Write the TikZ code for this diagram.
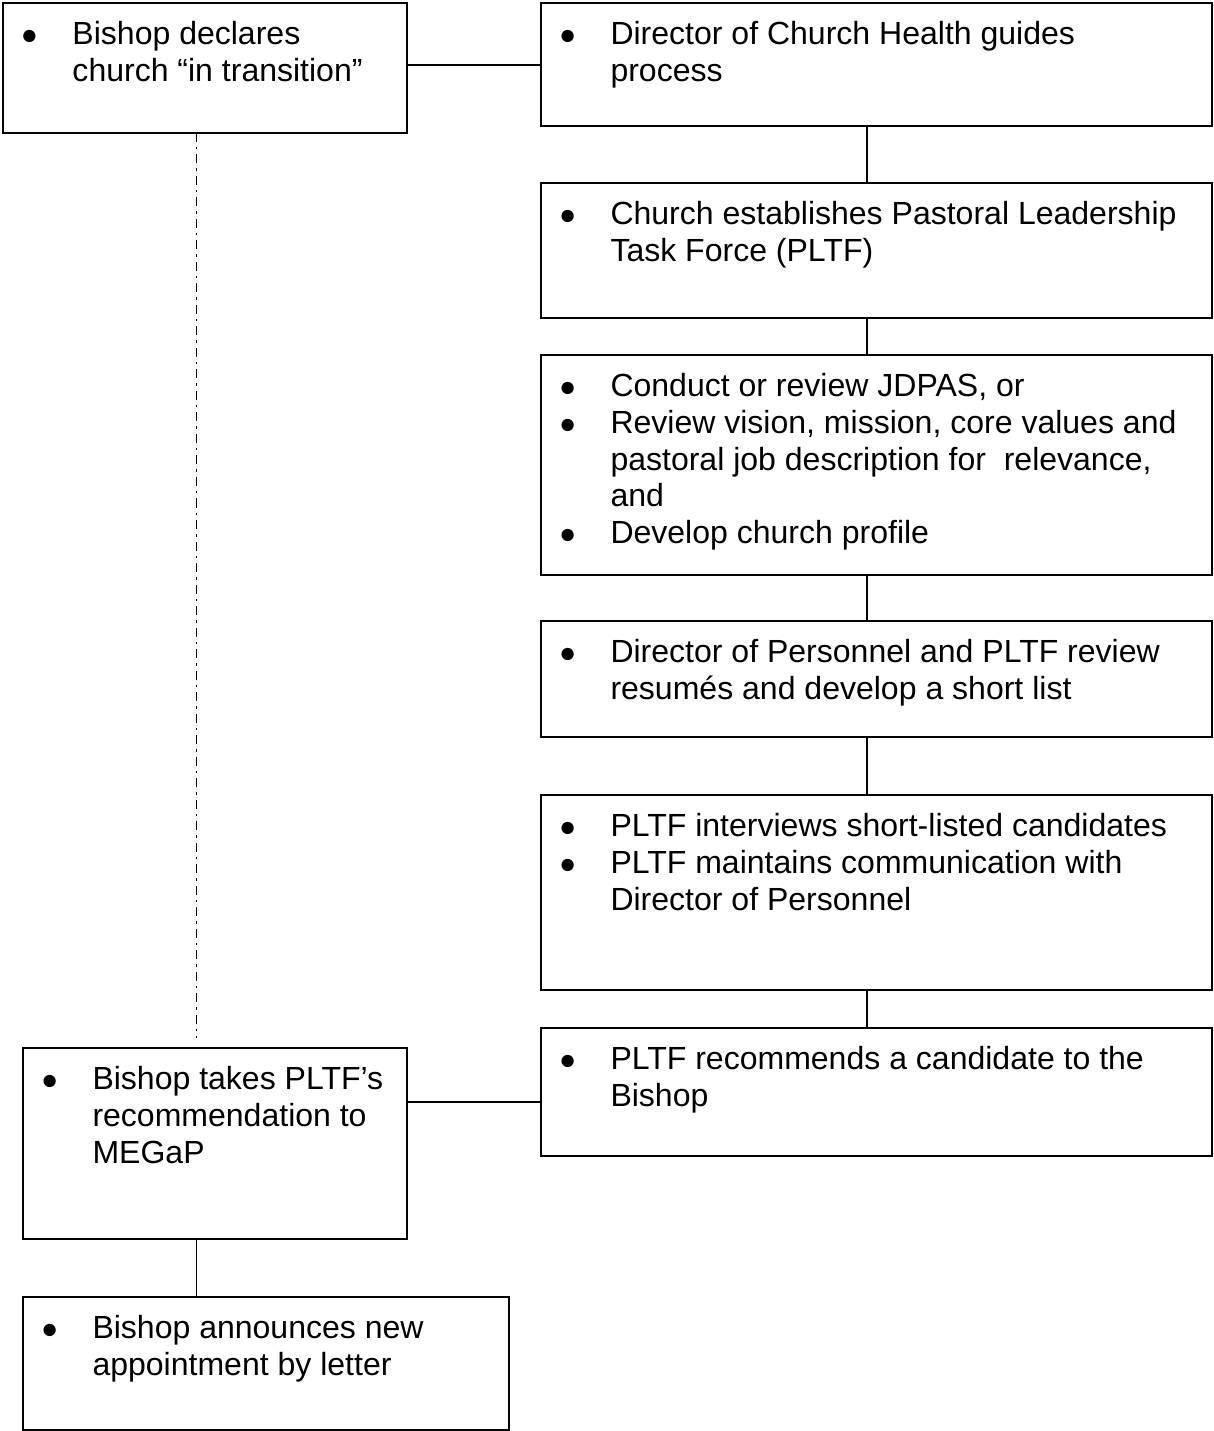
\documentclass[tikz,border=0pt]{standalone}
\usepackage{fontspec}
\setmainfont{Liberation Sans}
\newlength\px \setlength\px{0.3685pt}
\newlength\bulin \setlength\bulin{18\px}
\newlength\txtin \setlength\txtin{69.5\px}
\newcommand\mybullet{{\fontsize{10.5pt}{10.5pt}\selectfont ●}}
\newcommand\bitem[1]{\par\noindent\hangindent=\txtin\hangafter=1\makebox[\txtin][l]{\hspace*{\bulin}\mybullet}\strut{\let\\\newline #1}\par}
\newcommand\boxtext[3]{\parbox[t][#2\px][t]{#1\px}{\fontsize{11.8pt}{13.55pt}\selectfont\rightskip=0pt plus 1fil\parindent=0pt\parskip=0pt\hbadness=10000\hfuzz=100pt\vspace*{5.8pt}#3}}
\tikzset{
  flowbox/.style={draw, line width=0.75pt, inner sep=0pt, outer sep=0pt, anchor=north west},
  conn/.style={line width=0.6pt},
  dashdotline/.style={line width=0.45pt, dash pattern=on 9\px off 5\px on 2.5\px off 5\px}
}
\begin{document}
\begin{tikzpicture}[x=0.3685pt,y=-0.3685pt]
\useasboundingbox (0,0) rectangle (1213,1431);
\node[flowbox] (b1) at (3,3) {\boxtext{404}{130}{\bitem{Bishop declares\\church “in transition”}}};
\node[flowbox] (b2) at (541,3) {\boxtext{671}{123}{\bitem{Director of Church Health guides\\process}}};
\node[flowbox] (b3) at (541,183) {\boxtext{671}{135}{\bitem{Church establishes Pastoral Leadership\\Task Force (PLTF)}}};
\node[flowbox] (b4) at (541,355) {\boxtext{671}{220}{\bitem{Conduct or review JDPAS, or}\bitem{Review vision, mission, core values and\\pastoral job description for~ relevance,\\and}\bitem{Develop church profile}}};
\node[flowbox] (b5) at (541,621) {\boxtext{671}{116}{\bitem{Director of Personnel and PLTF review\\resumés and develop a short list}}};
\node[flowbox] (b6) at (541,795) {\boxtext{671}{195}{\bitem{PLTF interviews short-listed candidates}\bitem{PLTF maintains communication with\\Director of Personnel}}};
\node[flowbox] (b7) at (541,1028) {\boxtext{671}{128}{\bitem{PLTF recommends a candidate to the\\Bishop}}};
\node[flowbox] (b8) at (23,1048) {\boxtext{384}{191}{\bitem{Bishop takes PLTF’s\\recommendation to\\MEGaP}}};
\node[flowbox] (b9) at (23,1297) {\boxtext{486}{133}{\bitem{Bishop announces new\\appointment by letter}}};
\coordinate (cx) at (867,0);
\coordinate (cl) at (196.5,0);
\coordinate (h1) at (0,65);
\coordinate (h2) at (0,1102);
\coordinate (dend) at (196.5,1038);
\draw[conn] (b1.east |- h1) -- (b2.west |- h1);
\draw[conn] (b2.south -| cx) -- (b3.north -| cx);
\draw[conn] (b3.south -| cx) -- (b4.north -| cx);
\draw[conn] (b4.south -| cx) -- (b5.north -| cx);
\draw[conn] (b5.south -| cx) -- (b6.north -| cx);
\draw[conn] (b6.south -| cx) -- (b7.north -| cx);
\draw[conn] (b8.east |- h2) -- (b7.west |- h2);
\draw[conn] (b8.south -| cl) -- (b9.north -| cl);
\draw[dashdotline] (b1.south -| cl) -- (dend);
\end{tikzpicture}
\end{document}
